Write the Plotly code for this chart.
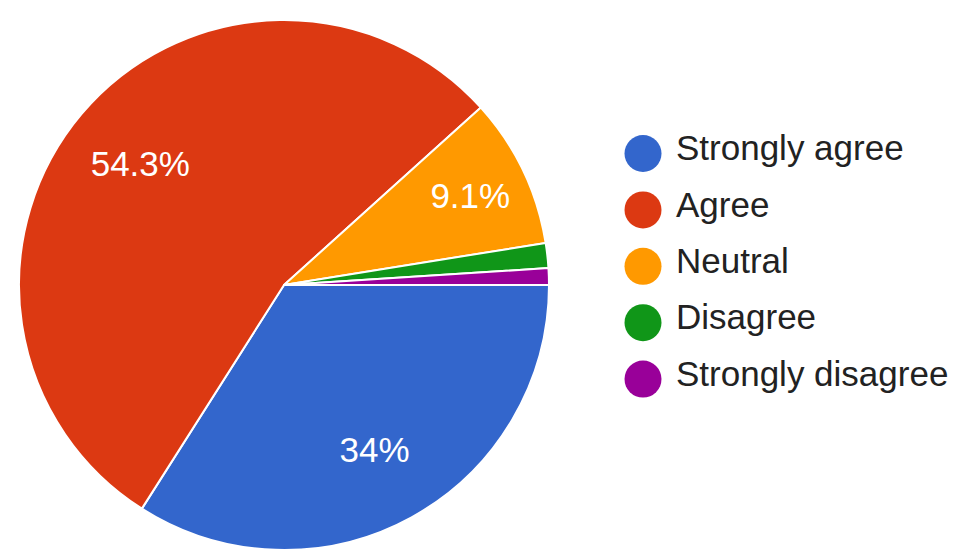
import plotly.graph_objects as go

# ---- data ----
categories = ["Strongly agree", "Agree", "Neutral", "Disagree", "Strongly disagree"]
responses = [67, 107, 18, 3, 2]
colors = ["#3366CC", "#DC3912", "#FF9900", "#109618", "#990099"]

total = sum(responses)

def pct_label(v):
    p = round(v / total * 100, 1)
    if p < 5:
        return ""
    s = f"{p:.1f}"
    if s.endswith(".0"):
        s = s[:-2]
    return s + "%"

slice_text = [pct_label(v) for v in responses]

W, H = 959, 550
OFF = 8.0  # page body margin of the browser
FONT = "Liberation Sans, Arial, sans-serif"

pie_dom = dict(x=[(19 - OFF) / W, (549 - OFF) / W],
               y=[OFF / H, (530 + OFF) / H])

fig = go.Figure()

# coloured pie
fig.add_trace(go.Pie(
    labels=categories,
    values=responses,
    textinfo="none",
    marker=dict(colors=colors, line=dict(color="#FFFFFF", width=2)),
    sort=False,
    direction="clockwise",
    rotation=90,
    showlegend=False,
    domain=pie_dom,
    hoverinfo="label+percent",
))

# transparent ring on top that carries the percentage labels
fig.add_trace(go.Pie(
    labels=categories,
    values=responses,
    text=slice_text,
    textinfo="text",
    textposition="inside",
    insidetextorientation="horizontal",
    textfont=dict(family=FONT, size=35, color="#FFFFFF"),
    marker=dict(colors=["rgba(0,0,0,0)"] * len(categories), line=dict(width=0)),
    hole=0.42,
    sort=False,
    direction="clockwise",
    rotation=90,
    showlegend=False,
    domain=pie_dom,
    hoverinfo="skip",
))

# legend drawn as a scatter of circles with labels
row_idx = list(range(len(categories)))
fig.add_trace(go.Scatter(
    x=[0] * len(categories),
    y=row_idx,
    mode="markers",
    marker=dict(color=colors, size=37, symbol="circle"),
    showlegend=False,
    hoverinfo="skip",
    xaxis="x", yaxis="y",
))
fig.add_trace(go.Scatter(
    x=[1] * len(categories),
    y=row_idx,
    mode="text",
    text=categories,
    textposition="middle right",
    textfont=dict(family=FONT, size=35, color="#222222"),
    showlegend=False,
    hoverinfo="skip",
    xaxis="x", yaxis="y2",
))

# pixel geometry for legend axes
px_per_unit_x = 33.0
x0_px = 643.0 - OFF
xdom = [0.6, 1.0]
dom_left_px = xdom[0] * W
dom_w_px = (xdom[1] - xdom[0]) * W
xr0 = -(x0_px - dom_left_px) / px_per_unit_x
xr1 = xr0 + dom_w_px / px_per_unit_x

row_px = 56.4
first_px = 153.5 - OFF
top_px = first_px - row_px / 2
bot_px = top_px + row_px * len(categories)
ydom = [(H - bot_px) / H, (H - top_px) / H]
shift = 2.0 / H
ydom2 = [ydom[0] + shift, ydom[1] + shift]

axis_off = dict(visible=False, showgrid=False, zeroline=False, fixedrange=True)
fig.update_layout(
    width=W, height=H,
    margin=dict(l=0, r=0, t=0, b=0),
    paper_bgcolor="#FFFFFF",
    plot_bgcolor="rgba(0,0,0,0)",
    font=dict(family=FONT),
    xaxis=dict(domain=xdom, range=[xr0, xr1], **axis_off),
    yaxis=dict(domain=ydom, range=[len(categories) - 0.5, -0.5], **axis_off),
    yaxis2=dict(domain=ydom2, range=[len(categories) - 0.5, -0.5], anchor="x", **axis_off),
)

fig.write_html("out.html")
